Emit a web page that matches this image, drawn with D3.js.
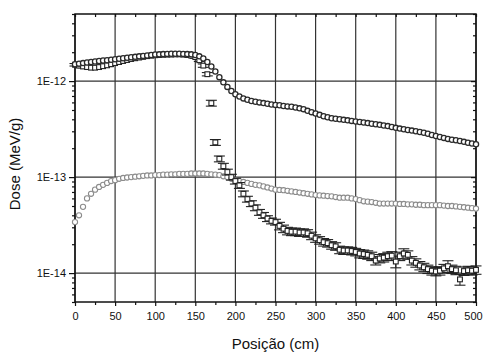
<!DOCTYPE html>
<html>
<head>
<meta charset="utf-8">
<script src="https://cdn.jsdelivr.net/npm/d3@7"></script>
<style>
  body { margin: 0; background: #fff; }
  svg text { font-family: "Liberation Sans", Arial, sans-serif; fill: #111; }
</style>
</head>
<body>
<div id="chart"></div>
<script>
// posicoes em cm, uma a cada 5 cm
const posicoes = d3.range(0, 501, 5);

// curva superior (valores x 1E-12 MeV/g)
const doseSuperior = [
  1.50, 1.52, 1.54, 1.56, 1.58, 1.60, 1.62, 1.64, 1.65, 1.67,
  1.69, 1.71, 1.73, 1.75, 1.77, 1.79, 1.81, 1.83, 1.85, 1.87,
  1.89, 1.90, 1.91, 1.92, 1.93, 1.93, 1.93, 1.92, 1.91, 1.90,
  1.87, 1.81, 1.72, 1.58, 1.42, 1.26, 1.10, 0.97, 0.87, 0.79,
  0.73, 0.69, 0.66, 0.64, 0.62, 0.61, 0.60, 0.59, 0.58, 0.57,
  0.565, 0.56, 0.55, 0.545, 0.54, 0.53, 0.52, 0.51, 0.49, 0.475,
  0.46, 0.445, 0.43, 0.42, 0.41, 0.405, 0.40, 0.395, 0.39, 0.385,
  0.38, 0.375, 0.37, 0.365, 0.36, 0.355, 0.35, 0.345, 0.34, 0.333,
  0.326, 0.32, 0.315, 0.31, 0.305, 0.30, 0.295, 0.29, 0.283, 0.275,
  0.268, 0.262, 0.256, 0.25, 0.245, 0.242, 0.238, 0.233, 0.228, 0.224, 0.22
];

// curva cinza (valores x 1E-14 MeV/g)
const doseCinza = [
  3.4, 4.0, 4.9, 6.0, 6.7, 7.4, 7.9, 8.3, 8.7, 9.1,
  9.3, 9.6, 9.8, 9.9, 10.0, 10.1, 10.2, 10.3, 10.4, 10.4,
  10.5, 10.5, 10.6, 10.6, 10.7, 10.7, 10.8, 10.8, 10.8, 10.9,
  10.9, 10.9, 10.9, 10.8, 10.7, 10.6, 10.5, 10.2, 10.0, 9.6,
  9.3, 9.1, 8.9, 8.7, 8.5, 8.3, 8.2, 8.0, 7.8, 7.6,
  7.4, 7.35, 7.3, 7.2, 7.1, 7.0, 6.9, 6.8, 6.7, 6.6,
  6.5, 6.45, 6.4, 6.35, 6.3, 6.2, 6.1, 6.1, 6.1, 6.0,
  5.9, 5.75, 5.6, 5.55, 5.5, 5.4, 5.3, 5.3, 5.3, 5.3,
  5.3, 5.25, 5.25, 5.2, 5.2, 5.15, 5.15, 5.1, 5.1, 5.1,
  5.1, 5.1, 5.05, 5.0, 5.0, 4.95, 4.9, 4.85, 4.8, 4.75, 4.7
];

// curva com barras de erro (MeV/g)
const doseErro = [
  1.48e-12, 1.45e-12, 1.42e-12, 1.40e-12, 1.38e-12, 1.38e-12, 1.40e-12, 1.43e-12, 1.46e-12, 1.50e-12,
  1.54e-12, 1.58e-12, 1.62e-12, 1.66e-12, 1.70e-12, 1.73e-12, 1.76e-12, 1.79e-12, 1.82e-12, 1.84e-12,
  1.86e-12, 1.87e-12, 1.88e-12, 1.89e-12, 1.89e-12, 1.90e-12, 1.90e-12, 1.89e-12, 1.87e-12, 1.84e-12,
  1.78e-12, 1.65e-12, 1.45e-12, 1.18e-12, 5.9e-13, 2.3e-13, 1.55e-13, 1.30e-13, 1.13e-13, 1.0e-13,
  9.1e-14, 8.2e-14, 6.7e-14, 5.9e-14, 5.3e-14, 4.8e-14, 4.3e-14, 4.0e-14, 3.7e-14, 3.5e-14,
  3.4e-14, 3.1e-14, 2.9e-14, 2.75e-14, 2.7e-14, 2.7e-14, 2.65e-14, 2.65e-14, 2.6e-14, 2.45e-14,
  2.3e-14, 2.2e-14, 2.1e-14, 2.05e-14, 1.95e-14, 1.9e-14, 1.75e-14, 1.72e-14, 1.72e-14, 1.70e-14,
  1.66e-14, 1.6e-14, 1.58e-14, 1.55e-14, 1.5e-14, 1.35e-14, 1.42e-14, 1.45e-14, 1.5e-14, 1.52e-14,
  1.32e-14, 1.5e-14, 1.6e-14, 1.55e-14, 1.35e-14, 1.28e-14, 1.2e-14, 1.15e-14, 1.1e-14, 1.06e-14,
  1.04e-14, 1.06e-14, 1.12e-14, 1.18e-14, 1.1e-14, 1.07e-14, 8.6e-15, 1.05e-14, 1.07e-14, 1.06e-14, 1.08e-14
];

// erro relativo de cada ponto
const erroRelativo = [
  0.03, 0.03, 0.03, 0.03, 0.03, 0.03, 0.03, 0.03, 0.03, 0.03,
  0.03, 0.03, 0.03, 0.03, 0.03, 0.03, 0.03, 0.03, 0.03, 0.03,
  0.03, 0.03, 0.03, 0.03, 0.03, 0.03, 0.03, 0.03, 0.03, 0.03,
  0.03, 0.03, 0.04, 0.04, 0.07, 0.07, 0.07, 0.07, 0.07, 0.07,
  0.07, 0.07, 0.07, 0.07, 0.07, 0.07, 0.07, 0.07, 0.07, 0.07,
  0.07, 0.09, 0.09, 0.09, 0.09, 0.09, 0.09, 0.09, 0.09, 0.09,
  0.09, 0.09, 0.09, 0.09, 0.09, 0.09, 0.09, 0.09, 0.09, 0.09,
  0.09, 0.10, 0.10, 0.10, 0.10, 0.10, 0.10, 0.10, 0.10, 0.10,
  0.14, 0.10, 0.12, 0.10, 0.10, 0.10, 0.10, 0.10, 0.10, 0.10,
  0.10, 0.10, 0.10, 0.14, 0.10, 0.10, 0.13, 0.10, 0.10, 0.10, 0.10
];

const xTicks = d3.range(0, 501, 50);
const xMinor = d3.range(25, 500, 50);
const yTicks = [1e-14, 1e-13, 1e-12];

const W = 484, H = 352;
const margin = { top: 14, right: 8, bottom: 50, left: 75 };
const plotW = 476 - margin.left;
const plotH = 302 - margin.top;

const x = d3.scaleLinear().domain([0, 500]).range([margin.left, margin.left + plotW]);
const y = d3.scaleLog().domain([5e-15, 5e-12]).range([margin.top + plotH, margin.top]);

// minor ticks 2..9 of each decade inside the domain
const yMinor = [];
[-15, -14, -13, -12].forEach(e => {
  for (let m = 2; m <= 9; m++) {
    const v = m * Math.pow(10, e);
    if (v >= 5e-15 && v <= 5e-12) yMinor.push(v);
  }
});

const fmtE = d => "1E" + Math.round(Math.log10(d));

const svg = d3.select("#chart").append("svg")
  .attr("width", W).attr("height", H);

svg.append("rect").attr("width", W).attr("height", H).attr("fill", "#fff");

const pTop = margin.top, pBottom = margin.top + plotH;
const pLeft = margin.left, pRight = margin.left + plotW;

// grid
const grid = svg.append("g").attr("stroke", "#333").attr("stroke-width", 1.2);
grid.selectAll(".gx").data(xTicks).join("line")
  .attr("x1", d => x(d)).attr("x2", d => x(d))
  .attr("y1", pTop).attr("y2", pBottom);
grid.selectAll(".gy").data(yTicks).join("line")
  .attr("x1", pLeft).attr("x2", pRight)
  .attr("y1", d => y(d)).attr("y2", d => y(d));

// axes
const styleAxis = g => {
  g.select(".domain").remove();
  g.selectAll("line").attr("stroke", "#111").attr("stroke-width", 1.2);
  g.selectAll("text").style("font-size", "11px").attr("fill", "#111");
};

const xAxisG = svg.append("g").attr("transform", `translate(0,${pBottom})`)
  .call(d3.axisBottom(x).tickValues(xTicks).tickSize(4).tickPadding(6).tickFormat(d3.format("d")))
  .call(styleAxis);
// keep the last label inside the window
xAxisG.selectAll(".tick text").filter(d => d === 500).attr("dx", "-3");

svg.append("g").attr("transform", `translate(0,${pBottom})`)
  .call(d3.axisBottom(x).tickValues(xMinor).tickSize(3).tickFormat(""))
  .call(styleAxis);
svg.append("g").attr("transform", `translate(0,${pTop})`)
  .call(d3.axisTop(x).tickValues(xTicks.concat(xMinor)).tickSize(-3).tickFormat(""))
  .call(styleAxis);

svg.append("g").attr("transform", `translate(${pLeft},0)`)
  .call(d3.axisLeft(y).tickValues(yTicks).tickSize(6).tickPadding(3).tickFormat(fmtE))
  .call(styleAxis);
svg.append("g").attr("transform", `translate(${pLeft},0)`)
  .call(d3.axisLeft(y).tickValues(yMinor).tickSize(3).tickFormat(""))
  .call(styleAxis);
svg.append("g").attr("transform", `translate(${pRight},0)`)
  .call(d3.axisRight(y).tickValues(yTicks).tickSize(-5).tickFormat(""))
  .call(styleAxis);
svg.append("g").attr("transform", `translate(${pRight},0)`)
  .call(d3.axisRight(y).tickValues(yMinor).tickSize(-3).tickFormat(""))
  .call(styleAxis);

// frame
svg.append("rect")
  .attr("x", pLeft).attr("y", pTop).attr("width", plotW).attr("height", plotH)
  .attr("fill", "none").attr("stroke", "#111").attr("stroke-width", 1.5);

// series
const serieCinza = posicoes.map((p, i) => ({ p, v: doseCinza[i] * 1e-14 }));
const serieSuperior = posicoes.map((p, i) => ({ p, v: doseSuperior[i] * 1e-12 }));
const serieErro = posicoes.map((p, i) => ({ p, v: doseErro[i], e: erroRelativo[i] }));

const pontos = svg.append("g");

pontos.append("g").selectAll("circle").data(serieCinza).join("circle")
  .attr("cx", d => x(d.p)).attr("cy", d => y(d.v)).attr("r", 2.6)
  .attr("fill", "#fff").attr("stroke", "#8c8c8c").attr("stroke-width", 1.1);

const eb = pontos.append("g").attr("stroke", "#222").attr("stroke-width", 1.1);
eb.selectAll(".bar").data(serieErro).join("line")
  .attr("x1", d => x(d.p)).attr("x2", d => x(d.p))
  .attr("y1", d => y(d.v * (1 - d.e))).attr("y2", d => y(d.v * (1 + d.e)));
eb.selectAll(".capHi").data(serieErro).join("line")
  .attr("x1", d => x(d.p) - 5.5).attr("x2", d => x(d.p) + 5.5)
  .attr("y1", d => y(d.v * (1 + d.e))).attr("y2", d => y(d.v * (1 + d.e)));
eb.selectAll(".capLo").data(serieErro).join("line")
  .attr("x1", d => x(d.p) - 5.5).attr("x2", d => x(d.p) + 5.5)
  .attr("y1", d => y(d.v * (1 - d.e))).attr("y2", d => y(d.v * (1 - d.e)));

pontos.append("g").selectAll("rect").data(serieErro).join("rect")
  .attr("x", d => x(d.p) - 2.4).attr("y", d => y(d.v) - 2.4)
  .attr("width", 4.8).attr("height", 4.8)
  .attr("fill", "#fff").attr("stroke", "#222").attr("stroke-width", 1.1);

pontos.append("g").selectAll("circle").data(serieSuperior).join("circle")
  .attr("cx", d => x(d.p)).attr("cy", d => y(d.v)).attr("r", 2.6)
  .attr("fill", "#fff").attr("stroke", "#2a2a2a").attr("stroke-width", 1.3);

// titles
svg.append("text")
  .attr("x", (pLeft + pRight) / 2).attr("y", 349)
  .attr("text-anchor", "middle").style("font-size", "15px")
  .text("Posição (cm)");

svg.append("text")
  .attr("transform", `translate(20,${(pTop + pBottom) / 2 + 6}) rotate(-90)`)
  .attr("text-anchor", "middle").style("font-size", "15px")
  .text("Dose (MeV/g)");
</script>
</body>
</html>
